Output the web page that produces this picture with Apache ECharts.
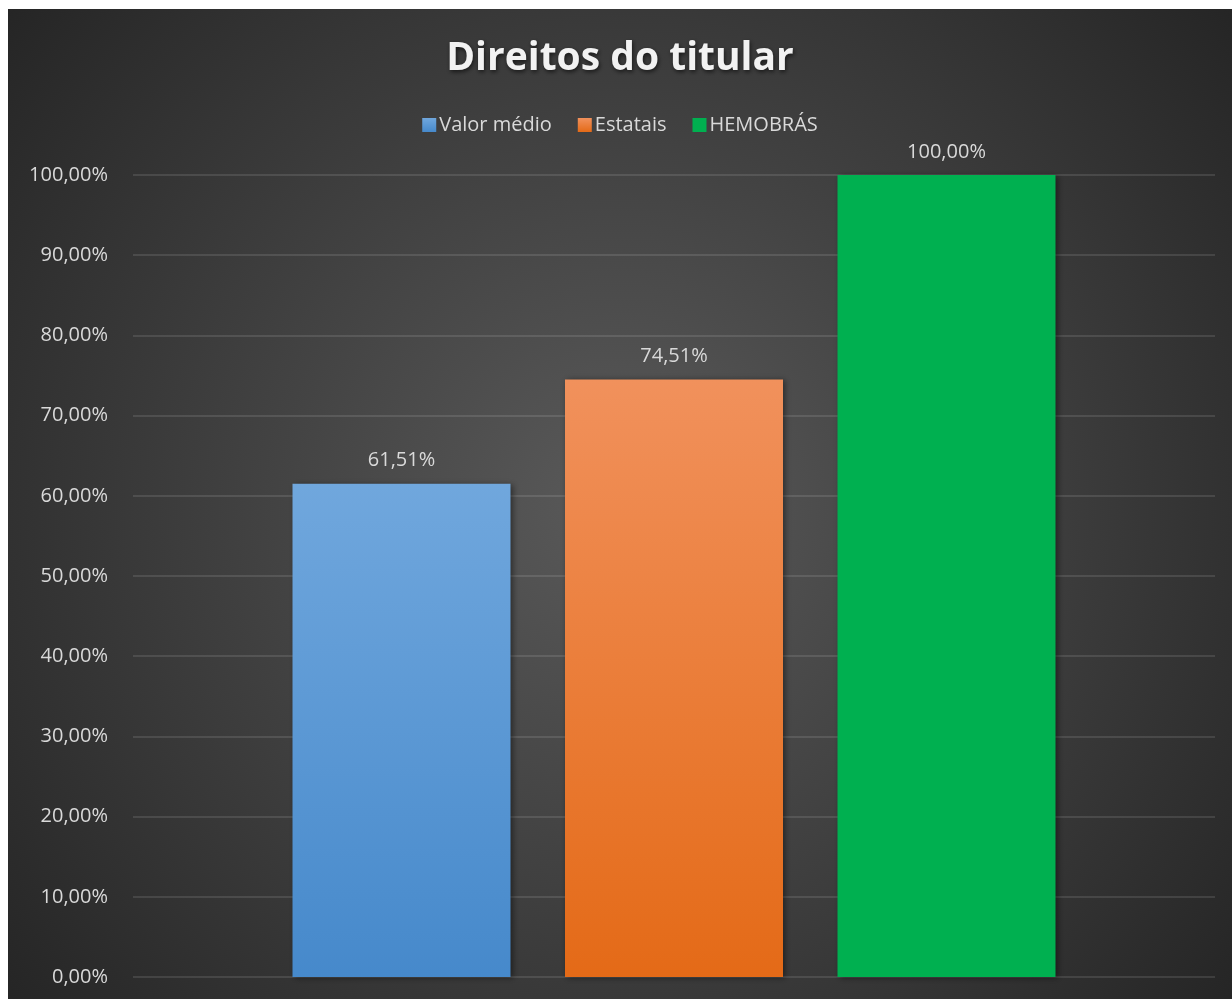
<!DOCTYPE html>
<html>
<head>
<meta charset="utf-8">
<script src="https://cdn.jsdelivr.net/npm/echarts@6/dist/echarts.min.js"></script>
<style>
	html, body { margin: 0; padding: 0; background: #ffffff; }
	#chart { position: absolute; left: 8px; top: 9px; width: 1224px; height: 990px; }
</style>
</head>
<body>
<div id="chart"></div>
<script>
var seriesNames = ['Valor médio', 'Estatais', 'HEMOBRÁS'];
var seriesValues = [61.51, 74.51, 100.00];
var categories = [''];

var barColors = [
	['#70a7dd', '#4689cb'],
	['#f1915c', '#e46a17'],
	['#00b050', '#00b050']
];

function fmt(v) {
	return v.toFixed(2).replace('.', ',') + '%';
}

var myChart = echarts.init(document.getElementById('chart'));

var series = seriesNames.map(function(name, i) {
	return {
		name: name,
		type: 'bar',
		data: [seriesValues[i]],
		barWidth: 218,
		barGap: '25%',
		itemStyle: {
			color: {
				type: 'linear', x: 0, y: 0, x2: 0, y2: 1,
				colorStops: [
					{ offset: 0, color: barColors[i][0] },
					{ offset: 1, color: barColors[i][1] }
				]
			},
			shadowColor: 'rgba(0,0,0,0.45)',
			shadowBlur: 6,
			shadowOffsetX: 2,
			shadowOffsetY: 1
		},
		label: {
			show: true,
			position: 'top',
			distance: 13,
			color: '#d9d9d9',
			fontSize: 20,
			fontFamily: 'Open Sans',
			formatter: function(p) { return fmt(p.value); }
		}
	};
});

var option = {
	backgroundColor: {
		type: 'radial', x: 0.5, y: 0.5, r: 0.8,
		colorStops: [
			{ offset: 0, color: '#5a5a5a' },
			{ offset: 1, color: '#252525' }
		]
	},
	title: {
		text: 'Direitos do titular',
		left: 'center',
		top: 25,
		textStyle: {
			color: '#f2f2f2',
			fontSize: 39,
			fontWeight: 'bold',
			fontFamily: 'Open Sans',
			textShadowColor: 'rgba(0,0,0,0.6)',
			textShadowBlur: 4,
			textShadowOffsetX: 1,
			textShadowOffsetY: 2
		}
	},
	legend: {
		top: 101,
		left: 'center',
		itemWidth: 14,
		itemHeight: 14,
		itemGap: 26,
		icon: 'rect',
		textStyle: {
			color: '#d9d9d9',
			fontSize: 20,
			fontFamily: 'Open Sans',
			padding: [0, 0, 0, -2]
		},
		data: seriesNames
	},
	grid: {
		left: 125,
		right: 17,
		top: 166,
		bottom: 22,
		containLabel: false
	},
	xAxis: {
		type: 'category',
		data: categories,
		axisLine: { show: false },
		axisTick: { show: false },
		axisLabel: { show: false }
	},
	yAxis: {
		type: 'value',
		min: 0,
		max: 100,
		interval: 10,
		axisLine: { show: false },
		axisTick: { show: false },
		axisLabel: {
			color: '#d9d9d9',
			fontSize: 20,
			fontFamily: 'Open Sans',
			margin: 25,
			formatter: function(v) { return fmt(v); }
		},
		splitLine: {
			lineStyle: { color: 'rgba(255,255,255,0.11)', width: 2 }
		}
	},
	series: series
};

myChart.setOption(option);
</script>
</body>
</html>
